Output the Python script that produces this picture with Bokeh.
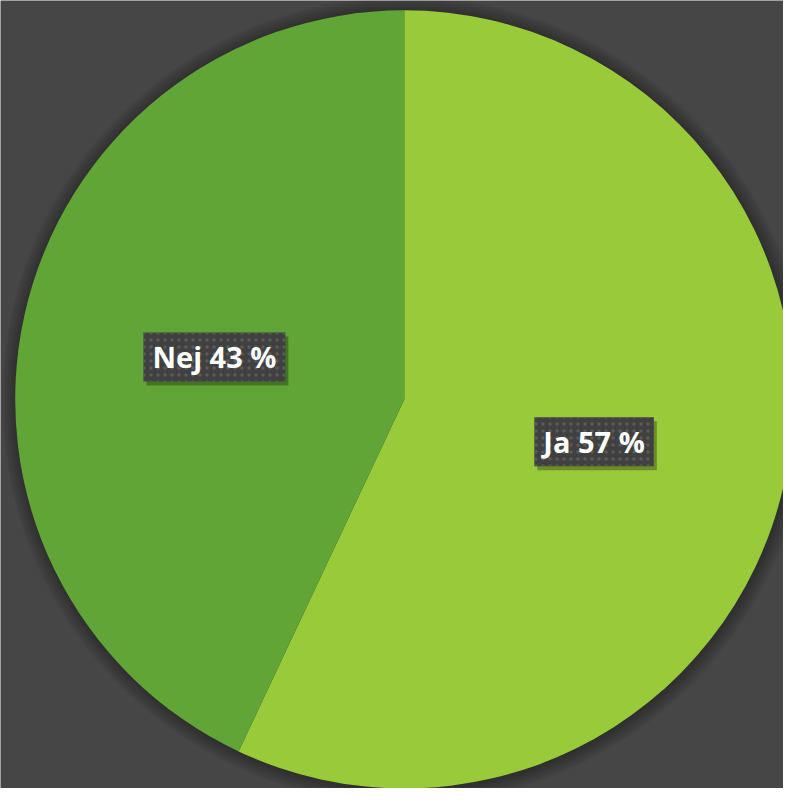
import numpy as np
from bokeh.plotting import figure
from bokeh.models import Range1d, ColumnDataSource
from bokeh.core.properties import value
from bokeh.embed import file_html
from bokeh.resources import INLINE

# data
categories = ["Ja", "Nej"]
percent = [57, 43]
colors = ["#99ca3a", "#62a537"]
label_texts = ["Ja 57 %", "Nej 43 %"]

W, H = 783, 788
# the figure shows the whole 799x804 reference area; y up
cx, cy, R = 412, 804 - 407, 397

p = figure(width=W, height=H, output_backend="svg", toolbar_location=None,
           x_range=Range1d(0, 799), y_range=Range1d(0, 804),
           min_border=0)
p.axis.visible = False
p.grid.visible = False
p.outline_line_color = None
p.background_fill_color = "#464646"
p.border_fill_color = "#464646"

# soft shadow around the pie
for i in range(10):
    p.circle(x=[cx + 1], y=[cy - 1], radius=R + 15 - i * 1.5,
             fill_color="black", fill_alpha=0.03, line_color=None)

# wedges: Nej starts at top and goes counter-clockwise
vals = np.array(percent, dtype=float)
frac = vals / vals.sum()
nej_ang = frac[1] * 2 * np.pi
start = [np.pi / 2 + nej_ang, np.pi / 2]
end = [np.pi / 2 + 2 * np.pi, np.pi / 2 + nej_ang]
src = ColumnDataSource(dict(start=start, end=end, color=colors,
                            cat=categories))
p.wedge(x=cx, y=cy, radius=R, start_angle="start", end_angle="end",
        fill_color="color", line_color=None, source=src)

mid = [(s + e) / 2 for s, e in zip(start, end)]
lx = [cx + 0.5 * R * np.cos(m) for m in mid]
ly = [cy + 0.5 * R * np.sin(m) for m in mid]
lsrc = ColumnDataSource(dict(x=lx, y=ly, t=label_texts))

pad = dict(left=9, right=9, top=5, bottom=5)
# label shadow
p.text(x="x", y="y", text="t", source=lsrc, text_align="center",
       text_baseline="middle", text_font=value("Open Sans"),
       text_font_style="bold", text_font_size="29px", text_alpha=0.0,
       x_offset=3, y_offset=4, background_fill_color="black",
       background_fill_alpha=0.3, padding=pad)
# label box
p.text(x="x", y="y", text="t", source=lsrc, text_align="center",
       text_baseline="middle", text_font=value("Open Sans"),
       text_font_style="bold", text_font_size="29px", text_color="white",
       background_fill_color="#404040", background_hatch_pattern="dot",
       background_hatch_color="#5a5a5a", background_hatch_scale=7,
       padding=pad)

open("out.html", "w").write(file_html(p, INLINE))
